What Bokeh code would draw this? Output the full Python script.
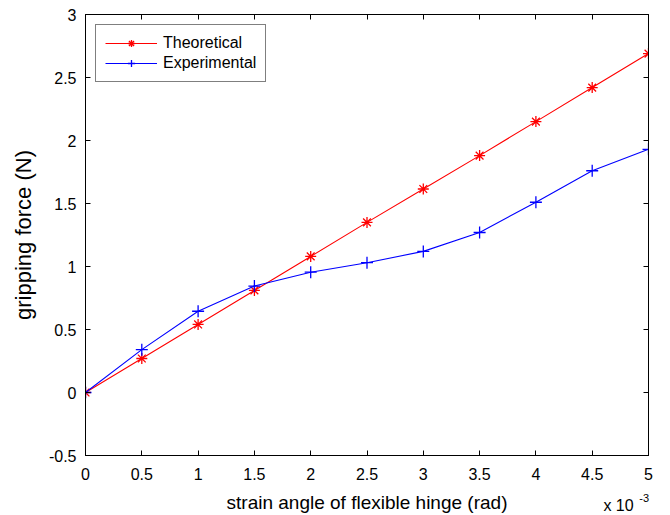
from bokeh.plotting import figure
from bokeh.models import Range1d, LinearAxis, FixedTicker, Legend, LegendItem
from bokeh.embed import file_html
from bokeh.resources import INLINE

# strain angle in units of 1e-3 rad
strain = [0, 0.5, 1, 1.5, 2, 2.5, 3, 3.5, 4, 4.5, 5]
theoretical = [0, 0.27, 0.54, 0.81, 1.08, 1.35, 1.615, 1.88, 2.15, 2.42, 2.69]
experimental = [0, 0.34, 0.645, 0.845, 0.955, 1.03, 1.12, 1.27, 1.51, 1.76, 1.93]
x_ticks = [0, 0.5, 1, 1.5, 2, 2.5, 3, 3.5, 4, 4.5, 5]
y_ticks = [-0.5, 0, 0.5, 1, 1.5, 2, 2.5, 3]
multiplier_text = "x 10"
exponent_text = "-3"

FONT = "Liberation Sans"

p = figure(width=668, height=515, output_backend="svg", toolbar_location=None,
           x_range=Range1d(0, 5), y_range=Range1d(-0.5, 3),
           min_border_left=85, min_border_top=14, min_border_right=20, min_border_bottom=58)
p.grid.visible = False
p.outline_line_color = "black"
p.outline_line_width = 1
p.background_fill_color = "white"
p.border_fill_color = "white"

for ax in [p.xaxis[0], p.yaxis[0]]:
    ax.major_tick_in = 5
    ax.major_tick_out = 0
    ax.minor_tick_line_color = None
    ax.axis_line_color = "black"
    ax.major_tick_line_color = "black"
    ax.major_label_text_font = FONT
    ax.major_label_text_font_size = "16px"
    ax.major_label_text_color = "black"
    ax.axis_label_text_font = FONT
    ax.axis_label_text_font_style = "normal"
    ax.axis_label_text_color = "black"

p.xaxis.ticker = FixedTicker(ticks=x_ticks)
p.yaxis.ticker = FixedTicker(ticks=y_ticks)
p.xaxis.major_label_overrides = {t: ("%g" % t) for t in x_ticks}
p.yaxis.major_label_overrides = {t: ("%g" % t) for t in y_ticks}
p.xaxis.axis_label = "strain angle of flexible hinge (rad)"
p.yaxis.axis_label = "gripping force (N)"
p.xaxis.axis_label_text_font_size = "19px"
p.yaxis.axis_label_text_font_size = "22px"
p.xaxis.major_label_standoff = 12
p.yaxis.major_label_standoff = 9
p.xaxis.axis_label_standoff = 9
p.yaxis.axis_label_standoff = 10

# box ticks on top and right (MATLAB style)
top = LinearAxis(ticker=FixedTicker(ticks=x_ticks), major_tick_in=5, major_tick_out=0,
                 minor_tick_line_color=None, major_label_text_color=None,
                 major_label_standoff=0, major_label_text_font_size="1px",
                 axis_line_color="black")
right = LinearAxis(ticker=FixedTicker(ticks=y_ticks), major_tick_in=5, major_tick_out=0,
                   minor_tick_line_color=None, major_label_text_color=None,
                   major_label_standoff=0, major_label_text_font_size="1px",
                   axis_line_color="black")
p.add_layout(top, "above")
p.add_layout(right, "right")

# "x 10^-3" scale multiplier, drawn as tick labels of invisible helper axes
mult_pos = 4.734
exp_pos = 4.962
mult_axis = LinearAxis(ticker=FixedTicker(ticks=[mult_pos]),
                       major_label_overrides={mult_pos: multiplier_text},
                       major_tick_in=0, major_tick_out=0, major_tick_line_color=None,
                       minor_tick_line_color=None, axis_line_color=None,
                       major_label_standoff=-499, major_label_text_font=FONT,
                       major_label_text_font_size="16px", major_label_text_color="black")
exp_axis = LinearAxis(ticker=FixedTicker(ticks=[exp_pos]),
                      major_label_overrides={exp_pos: exponent_text},
                      major_tick_in=0, major_tick_out=0, major_tick_line_color=None,
                      minor_tick_line_color=None, axis_line_color=None,
                      major_label_standoff=-487, major_label_text_font=FONT,
                      major_label_text_font_size="11px", major_label_text_color="black")
p.add_layout(mult_axis, "above")
p.add_layout(exp_axis, "above")

l1 = p.line(strain, theoretical, line_color="#ff0000", line_width=1.1)
s1 = p.scatter(strain, theoretical, marker="asterisk", size=11, line_color="#ff0000", line_width=1.3)
l2 = p.line(strain, experimental, line_color="#0000ff", line_width=1.1)
s2 = p.scatter(strain, experimental, marker="cross", size=12, line_color="#0000ff", line_width=1.3)

legend = Legend(items=[LegendItem(label="Theoretical", renderers=[l1, s1]),
                       LegendItem(label="Experimental", renderers=[l2, s2])],
                location="top_left")
legend.label_text_font = FONT
legend.label_text_font_size = "16px"
legend.label_text_color = "black"
legend.border_line_color = "black"
legend.border_line_width = 1
legend.margin = 10
legend.padding = 9
legend.spacing = 2
legend.glyph_width = 52
legend.label_height = 18
legend.glyph_height = 18
legend.label_standoff = 6
p.add_layout(legend)

html = file_html(p, INLINE)
open("out.html", "w").write(html)
